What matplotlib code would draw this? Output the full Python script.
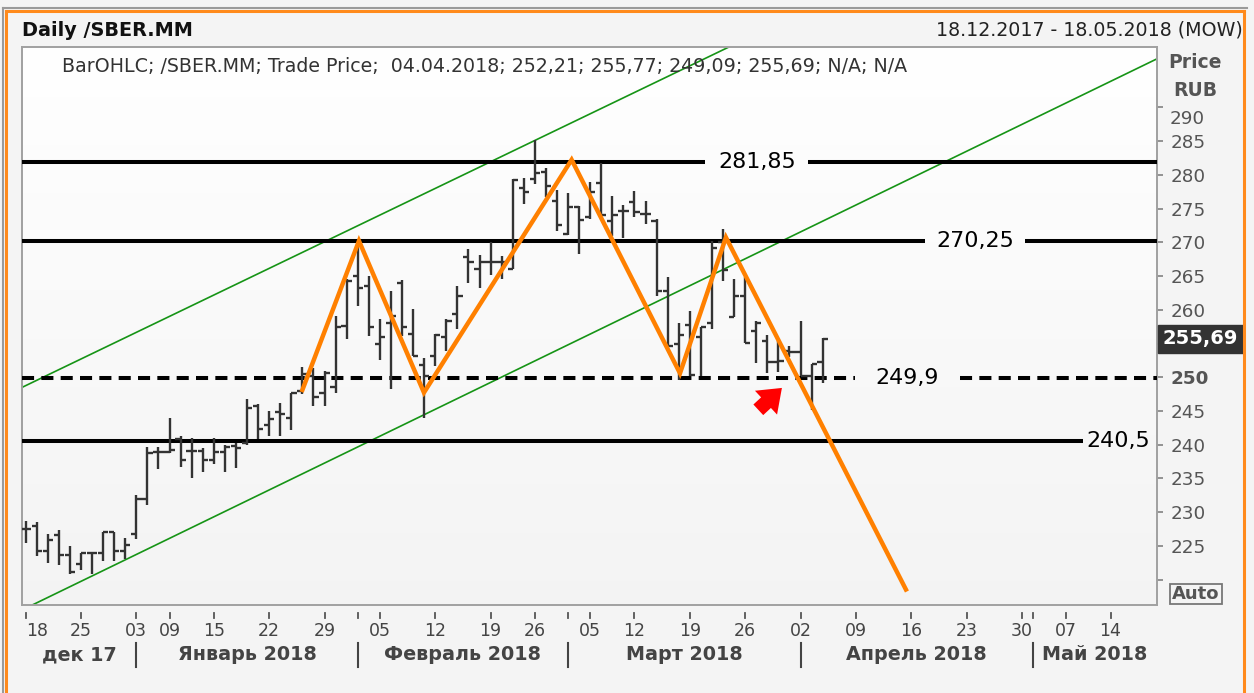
import numpy as np
import matplotlib
matplotlib.use('Agg')
import matplotlib.pyplot as plt
from matplotlib.patches import Rectangle, FancyArrowPatch
from matplotlib.lines import Line2D
from matplotlib.transforms import blended_transform_factory

plt.rcParams['font.family'] = ['DejaVu Sans']

# ---------------- data (daily OHLC, trading-day index 0 = 18.12.2017) -------------
opens = [227.5, 227.9, 224.2, 226.6, 223.7, 222.3, 223.9, 223.9, 227.1, 224.2,
         226.8, 232.0, 238.9, 238.9, 240.8, 239.1, 239.1, 237.8, 238.9, 239.8,
         240.3, 245.8, 242.9, 244.8, 244.0, 248.0, 250.2, 247.7, 248.5, 257.6,
         265.0, 263.5, 255.0, 258.0, 263.9, 256.4, 251.8, 253.2, 256.0, 259.4,
         267.8, 266.0, 267.1, 267.1, 266.1, 278.1, 279.4, 280.4, 276.2, 271.2,
         275.2, 273.7, 278.8, 273.2, 274.7, 276.0, 274.2, 273.2, 262.8, 255.0,
         257.7, 256.0, 258.0, 270.0, 259.0, 262.1, 256.9, 255.4, 252.2, 253.9,
         253.8, 250.2, 252.21]
highs = [228.7, 228.5, 226.7, 227.4, 225.0, 224.0, 224.0, 227.1, 227.1, 226.2,
         232.5, 239.6, 239.6, 244.0, 241.3, 241.0, 239.5, 241.0, 240.0, 240.2,
         246.8, 246.0, 245.0, 246.2, 247.7, 251.5, 251.4, 250.9, 259.1, 264.5,
         270.0, 265.0, 258.6, 262.8, 264.4, 260.1, 252.9, 256.4, 258.6, 263.6,
         269.0, 268.1, 270.1, 268.0, 279.4, 279.6, 285.1, 281.0, 277.7, 277.3,
         275.4, 279.0, 281.7, 276.9, 275.5, 277.6, 276.1, 273.5, 264.8, 258.1,
         259.8, 257.4, 270.2, 272.0, 264.5, 264.8, 258.4, 256.2, 255.4, 254.6,
         258.4, 251.9, 255.77]
lows = [225.5, 223.5, 222.5, 222.2, 220.9, 221.4, 220.8, 222.7, 222.7, 223.0,
        226.0, 231.0, 236.4, 238.8, 236.7, 235.0, 236.0, 237.1, 236.0, 236.5,
        240.0, 240.8, 241.3, 241.3, 242.2, 247.5, 245.7, 245.7, 247.7, 255.6,
        260.5, 256.1, 252.6, 248.2, 256.1, 253.2, 244.0, 251.6, 253.9, 257.1,
        264.0, 263.2, 265.1, 264.6, 266.1, 275.7, 278.6, 276.7, 271.7, 271.1,
        268.3, 273.5, 274.0, 271.0, 270.6, 273.7, 272.7, 262.0, 254.6, 249.6,
        250.2, 250.2, 257.1, 264.2, 258.9, 255.1, 252.1, 250.7, 250.8, 253.0,
        250.2, 245.2, 249.09]
closes = [227.5, 224.2, 225.9, 223.7, 221.1, 223.9, 223.9, 227.1, 224.2, 225.1,
          232.0, 238.8, 238.9, 239.2, 237.7, 239.1, 237.8, 238.9, 239.6, 239.5,
          245.5, 242.4, 243.8, 244.5, 247.7, 250.5, 247.1, 250.6, 257.5, 264.3,
          263.3, 257.5, 255.9, 259.1, 257.5, 253.2, 250.2, 256.2, 258.4, 262.1,
          267.1, 267.1, 267.1, 267.1, 279.3, 277.5, 280.3, 278.4, 272.6, 275.2,
          273.3, 277.5, 274.0, 274.0, 274.7, 274.5, 274.2, 262.8, 254.7, 256.2,
          250.3, 257.4, 269.2, 265.9, 262.1, 255.1, 258.0, 252.2, 252.4, 253.8,
          250.2, 251.9, 255.69]

week_tick_idx = [0, 5, 10, 13, 17, 22, 27, 30, 32, 37, 42, 46, 49, 51, 55, 60,
                 65, 70, 75, 80, 85, 90, 91, 94, 98]
week_tick_labels = ['18', '25', '03', '09', '15', '22', '29', '', '05', '12', '19',
                    '26', '', '05', '12', '19', '26', '02', '09', '16', '23', '30',
                    '', '07', '14']
month_bounds = [10, 30, 49, 70, 91]
month_labels = ['дек 17', 'Январь 2018', 'Февраль 2018', 'Март 2018',
                'Апрель 2018', 'Май 2018']

levels = [281.85, 270.25, 249.9, 240.5]
level_labels = ['281,85', '270,25', '249,9', '240,5']
level_dashed = [False, False, True, False]

zigzag_x = [24.93, 30.11, 35.98, 49.32, 59.11, 63.26, 79.61]
zigzag_y = [247.82, 270.22, 247.73, 282.24, 250.59, 270.73, 218.25]

channel_upper_x = [-0.33, 64.1]
channel_upper_y = [248.5, 299.4]
channel_lower_x = [0.66, 102.2]
channel_lower_y = [216.3, 297.2]

yticks = list(range(220, 295, 5))
last_price = 255.69

# ---------------- layout ----------------
W, H = 1254, 693
XMIN, XMAX = -0.33, 102.2
YMIN, YMAX = 216.25, 298.95
level_gaps = [(61.4, 70.7), (81.2, 90.3), (74.9, 84.4), (95.5, XMAX + 1)]
level_text_x = [66.06, 85.75, 79.6, 98.67]

fig = plt.figure(figsize=(W / 100, H / 100), dpi=100, facecolor='#f4f4f4')

def fx(px):
    return px / W

def fy(py):
    return 1 - py / H

# outer frame lines
fig.add_artist(Line2D([fx(3), fx(3)], [fy(8), 0], transform=fig.transFigure, color='#9a9a9a', lw=1.5))
fig.add_artist(Line2D([fx(3), fx(1247)], [fy(8), fy(8)], transform=fig.transFigure, color='#9a9a9a', lw=1.5))
fig.add_artist(Line2D([fx(6), fx(6)], [fy(10.5), 0], transform=fig.transFigure, color='#ff8a1c', lw=2.2))
fig.add_artist(Line2D([fx(6), fx(1244)], [fy(10.5), fy(10.5)], transform=fig.transFigure, color='#ff8a1c', lw=2.2))
fig.add_artist(Line2D([fx(1244), fx(1244)], [fy(10.5), 0], transform=fig.transFigure, color='#ff8a1c', lw=2.2))

ax = fig.add_axes([fx(22), fy(605), (1157 - 22) / W, (605 - 47) / H])

# background gradient
grad = np.linspace(1.0, 0.0, 256).reshape(-1, 1)
top_c = np.array([1.0, 1.0, 1.0])
bot_c = np.array([0.955, 0.955, 0.955])
img = top_c * grad[..., None] + bot_c * (1 - grad[..., None])
ax.imshow(img, extent=[0, 1, 0, 1], transform=ax.transAxes, aspect='auto', zorder=0)
ax.set_xlim(XMIN, XMAX)
ax.set_ylim(YMIN, YMAX)

# channel lines
ax.plot(channel_upper_x, channel_upper_y, color='#169416', lw=1.2, zorder=2)
ax.plot(channel_lower_x, channel_lower_y, color='#169416', lw=1.2, zorder=2)

# levels
for lev, lab, dashed, (g0, g1), tx in zip(levels, level_labels, level_dashed, level_gaps, level_text_x):
    ls = (0, (3, 1.8)) if dashed else '-'
    ax.plot([XMIN, g0], [lev, lev], color='black', lw=2.9, ls=ls, zorder=3,
            solid_capstyle='butt', dash_capstyle='butt')
    if g1 < XMAX:
        ax.plot([g1, XMAX], [lev, lev], color='black', lw=2.9, ls=ls, zorder=3,
                solid_capstyle='butt', dash_capstyle='butt')
    ax.text(tx, lev, lab, fontsize=16, color='black', ha='center', va='center', zorder=7)

# OHLC bars
x = np.arange(len(opens))
tw = 0.47
ax.vlines(x, lows, highs, color='#333333', lw=1.7, zorder=4)
ax.hlines(opens, x - tw, x, color='#333333', lw=1.7, zorder=4)
ax.hlines(closes, x, x + tw, color='#333333', lw=1.7, zorder=4)

# zigzag
ax.plot(zigzag_x, zigzag_y, color='#ff8000', lw=3.2, zorder=5,
        solid_joinstyle='miter', solid_capstyle='butt')

# red arrow
arr = FancyArrowPatch((66.0, 244.9), (68.5, 248.7),
                      arrowstyle='simple,head_length=0.6,head_width=0.9,tail_width=0.4',
                      mutation_scale=26, color='#ff0000', lw=0, zorder=6)
ax.add_patch(arr)

# spines
for s in ax.spines.values():
    s.set_color('#a0a0a0')
    s.set_linewidth(1.4)

# y axis right
ax.yaxis.tick_right()
ylabels = ['' if v in (220, 255, 290) else str(v) for v in yticks]
ax.set_yticks(yticks, labels=ylabels)
ax.tick_params(axis='y', direction='out', length=4.5, width=1.1, color='#777777',
               labelcolor='#555555', labelsize=13.2, pad=5)
for t in ax.get_yticklabels():
    if t.get_text() == '250':
        t.set_fontweight('bold')
ytr = blended_transform_factory(ax.transAxes, ax.transData)
ax.text(1 + 13 / 1135, 288.3, '290', transform=ytr, ha='left', va='center',
        fontsize=13.2, color='#555555')

# x axis ticks
ax.set_xticks(week_tick_idx, labels=week_tick_labels)
ax.tick_params(axis='x', length=0, labelsize=12.5, labelcolor='#444444', pad=12)
xl = ax.get_xticklabels()
xl[0].set_ha('left')
xtr = blended_transform_factory(ax.transData, ax.transAxes)
for i in week_tick_idx:
    ax.add_line(Line2D([i, i], [-8 / 558, -13 / 558], transform=xtr, color='#555555',
                       lw=1.3, clip_on=False))

# month labels and separators
edges = [XMIN] + month_bounds + [XMAX]
for k, lab in enumerate(month_labels):
    cx = (edges[k] + edges[k + 1]) / 2
    ax.text(cx, -50 / 558, lab, transform=xtr, ha='center', va='center',
            fontsize=13.8, fontweight='bold', color='#444444', clip_on=False)
for b in month_bounds:
    ax.add_line(Line2D([b, b], [-38 / 558, -62 / 558], transform=xtr, color='#444444',
                       lw=1.5, clip_on=False))

# header texts
fig.text(fx(22), fy(30), 'Daily /SBER.MM', fontsize=13.9, fontweight='bold',
         color='#111111', ha='left', va='center')
fig.text(fx(1243), fy(30), '18.12.2017 - 18.05.2018 (MOW)', fontsize=13.7,
         color='#222222', ha='right', va='center')
ax.text((62 - 22) / 1135, (605 - 66) / 558,
        'BarOHLC; /SBER.MM; Trade Price;  04.04.2018; 252,21; 255,77; 249,09; 255,69; N/A; N/A',
        transform=ax.transAxes, fontsize=13.7, color='#333333', ha='left', va='center', zorder=8)

fig.text(fx(1195), fy(62), 'Price', fontsize=13.5, fontweight='bold', color='#555555',
         ha='center', va='center')
fig.text(fx(1195), fy(90), 'RUB', fontsize=13.5, fontweight='bold', color='#555555',
         ha='center', va='center')

# last price box
ax.text(1.0 + 6 / 1135, last_price, '255,69', transform=ytr, ha='left', va='center',
        fontsize=14, fontweight='bold', color='white', clip_on=False, zorder=9,
        bbox=dict(boxstyle='square,pad=0.25', facecolor='#333333', edgecolor='#333333'))

# Auto box
fig.add_artist(Rectangle((fx(1170), fy(604)), 52 / W, 20 / H, transform=fig.transFigure,
                         facecolor='none', edgecolor='#777777', lw=1.3))
fig.text(fx(1196), fy(594), 'Auto', fontsize=13, fontweight='bold', color='#555555',
         ha='center', va='center')

fig.savefig('out.png', dpi=100, facecolor=fig.get_facecolor())
